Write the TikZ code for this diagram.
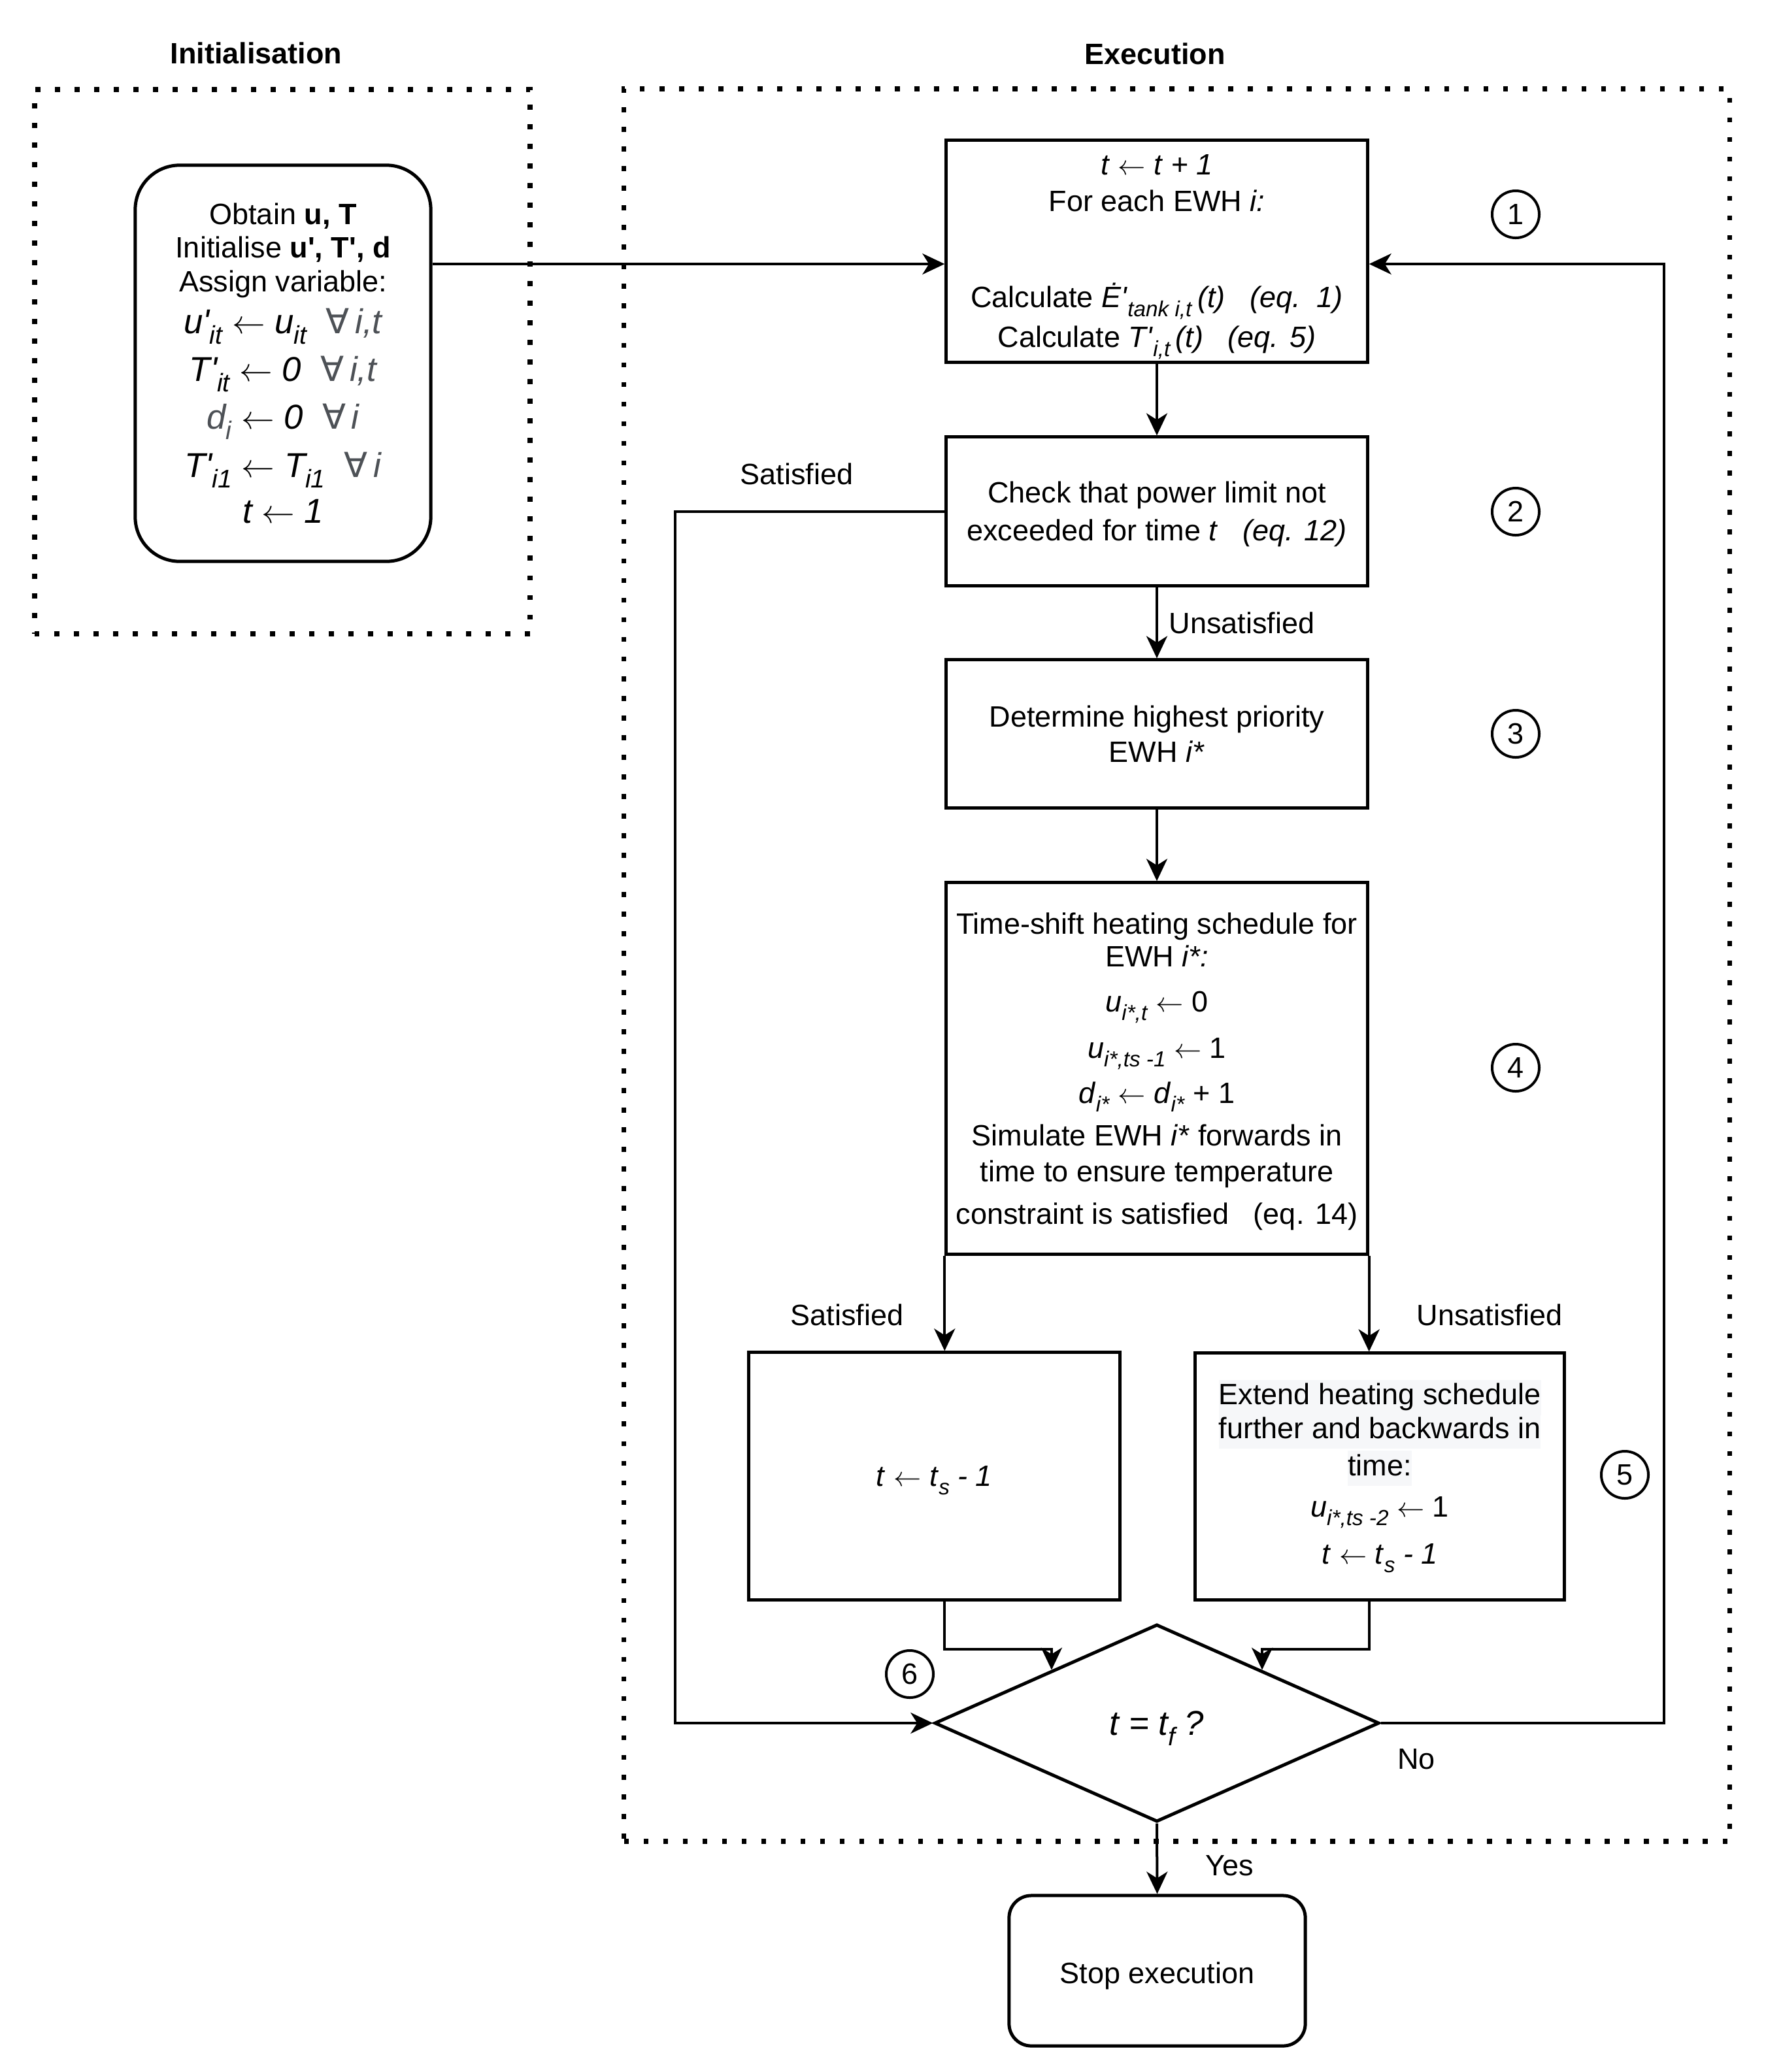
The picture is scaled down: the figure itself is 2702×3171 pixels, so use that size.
\documentclass[tikz,border=0pt]{standalone}
\usepackage{fontspec}
\usepackage{graphicx}
\setmainfont{Liberation Sans}
\newfontfamily\symf{DejaVu Sans}
\usetikzlibrary{arrows.meta,shapes.geometric,calc}
\definecolor{gtxt}{RGB}{77,81,86}
\definecolor{hlbg}{RGB}{246,247,249}
\newcommand\fs{\fontsize{12.8pt}{15.36pt}\selectfont}
\newcommand\fm{\fontsize{15pt}{18pt}\selectfont}
\newcommand\larr{\ensuremath{\leftarrow}}
\newcommand\fall{{\symf ∀}}
\newcommand\pq{\textquotesingle}
\newcommand\sbx[1]{\raisebox{-0.3em}{\scalebox{0.74}{#1}}}
\newcommand\sbz[1]{\smash{\sbx{#1}}}
\newcommand\hlx[1]{{\setlength\fboxsep{0pt}\colorbox{hlbg}{\strut #1}}}
\begin{document}
\begin{tikzpicture}[x=0.01cm,y=-0.01cm,
  every node/.style={font=\fs},
  box/.style={draw, line width=0.05cm, rectangle, align=center, inner sep=2pt},
  rbox/.style={box, rounded corners=#1},
  frame/.style={draw, line width=0.077cm, dash pattern=on 0.077cm off 0.223cm, rectangle, inner sep=0pt},
  conn/.style={line width=0.04cm, -{Stealth[length=0.34cm,width=0.32cm,inset=0.1cm]}},
  num/.style={draw, circle, line width=0.04cm, minimum size=0.72cm, inner sep=0pt},
  lbl/.style={inner sep=0pt},
  ttl/.style={font=\fs\bfseries, inner sep=0pt},
  dec/.style={draw, diamond, line width=0.05cm, minimum width=6.8cm, minimum height=3.02cm, inner sep=0pt, font=\fm\itshape}
]
\fill[white] (0,0) rectangle (2702,3171);
\useasboundingbox (0,0) rectangle (2702,3171);

% frames
\node[frame, minimum width=7.58cm, minimum height=8.33cm] (initframe) at (432,553.5) {};
\node[frame, minimum width=16.91cm, minimum height=26.80cm] (execframe) at (1800.5,1477) {};

% titles
\node[ttl] (t1) at (392,81) {Initialisation};
\node[ttl] (t2) at (1767,82) {Execution};

% initialisation box
\node[rbox=0.68cm, minimum width=4.52cm, minimum height=6.06cm] (init) at (433,556) {%
Obtain \textbf{u, T}\\[-0.03cm]
Initialise \textbf{u\pq, T\pq, d}\\[-0.02cm]
Assign variable:\\[0.10cm]
{\fm\itshape u\pq\sbx{it} \larr{} u\sbx{it}\ \ {\color{gtxt}\fall\,i,t}}\\[0.15cm]
{\fm\itshape T\pq\sbx{it} \larr{} 0\ \ {\color{gtxt}\fall\,i,t}}\\[0.15cm]
{\fm\itshape {\color{gtxt}d\sbx{i}} \larr{} 0\ \ {\color{gtxt}\fall\,i}}\\[0.16cm]
{\fm\itshape T\pq\sbx{i1} \larr{} T\sbx{i1}\ \ {\color{gtxt}\fall\,i}}\\[0.16cm]
{\fm\itshape t \larr{} 1}};

% execution boxes
\node[box, minimum width=6.44cm, minimum height=3.39cm] (b1) at (1770,384.5) {%
\textit{t} \larr{} \textit{t} + \textit{1}\\[0.02cm]
For each EWH \textit{i:}\\[0.93cm]
Calculate \textit{Ė\pq}\sbx{\textit{tank i,t}}\,\textit{(t)}~~~\textit{(eq.~~1)}\\[0.07cm]
Calculate \smash{\textit{T\pq}\sbx{\textit{i,t}}\,\textit{(t)}~~~\textit{(eq. 5)}}};

\node[box, minimum width=6.44cm, minimum height=2.27cm] (b2) at (1770,782.5) {%
\rule{0pt}{0.41cm}Check that power limit not\\[0.04cm]
exceeded for time \textit{t}~~~\textit{(eq. 12)}};

\node[box, minimum width=6.44cm, minimum height=2.26cm] (b3) at (1770,1123) {%
Determine highest priority\\
EWH \textit{i*}};

\node[box, minimum width=6.44cm, minimum height=5.68cm] (b4) at (1770,1635) {%
Time-shift heating schedule for\\[-0.04cm]
EWH \textit{i*:}\\[0.15cm]
\textit{u}\sbx{\textit{i*,t}} \larr{} 0\\[0.17cm]
\textit{u}\sbx{\textit{i*,ts -1}} \larr{} 1\\[0.15cm]
\textit{d}\sbx{\textit{i*}} \larr{} \textit{d}\sbx{\textit{i*}} + 1\\[0.11cm]
Simulate EWH \textit{i*} forwards in\\[0.01cm]
time to ensure temperature\\[0.11cm]
\smash{constraint is satisfied~~~(eq. 14)}};

\node[box, minimum width=5.68cm, minimum height=3.78cm] (b5a) at (1429.5,2259) {%
\textit{t} \larr{} \textit{t}\sbz{\textit{s}} \textit{- 1}};

\node[box, minimum width=5.64cm, minimum height=3.77cm] (b5b) at (2111,2259.5) {%
\hlx{Extend heating schedule}\\[-0.03cm]
\hlx{further and backwards in}\\[0.03cm]
\hlx{time:}\\[0.09cm]
\textit{u}\sbx{\textit{i*,ts -2}} \larr{} 1\\[0.18cm]
\textit{t} \larr{} \textit{t}\sbx{\textit{s}} \textit{- 1}};

\node[dec] (dia) at (1770,2637) {t = t\sbz{f} ?};

\node[rbox=0.34cm, minimum width=4.53cm, minimum height=2.30cm] (stop) at (1770.5,3016) {\rule{0pt}{0.48cm}Stop execution};

% step numbers
\node[num] (c1) at (2319,328) {1};
\node[num] (c2) at (2319,783) {2};
\node[num] (c3) at (2319,1123) {3};
\node[num] (c4) at (2319,1634) {4};
\node[num] (c5) at (2486,2257) {5};
\node[num] (c6) at (1392,2562) {6};

% helper coordinates
\coordinate (j1) at (1000,404);
\coordinate (rl) at (2546,404);
\coordinate (ll) at (1033,2637);
\coordinate (hy) at (0,2524);
\coordinate (dl) at ($(dia.north)!0.47!(dia.west)$);
\coordinate (dr) at ($(dia.north)!0.47!(dia.east)$);

% connectors
\draw[conn] (init.east |- j1) -- (b1.west |- j1);
\draw[conn] (b1.south) -- (b2.north);
\draw[conn] (b2.south) -- (b3.north);
\draw[conn] (b3.south) -- (b4.north);
\draw[conn] (b2.west) -| (ll) -- (dia.west);
\draw[conn] (dia.east) -| (rl) -- (b1.east |- rl);
\draw[conn] (b4.south west) -- (b4.south west |- b5a.north);
\draw[conn] (b4.south east) -- (b4.south east |- b5b.north);
\draw[conn] (b4.south west |- b5a.south) -- (b4.south west |- hy) -| (dl);
\draw[conn] (b4.south east |- b5b.south) -- (b4.south east |- hy) -| (dr);
\draw[conn] (dia.south) -- (stop.north);

% labels
\node[lbl] (lsat1) at (1219,725) {Satisfied};
\node[lbl] (lunsat1) at (1900,953) {Unsatisfied};
\node[lbl] (lsat2) at (1296,2012) {Satisfied};
\node[lbl] (lunsat2) at (2279,2012) {Unsatisfied};
\node[lbl] (lno) at (2167,2692) {No};
\node[lbl] (lyes) at (1881,2855) {Yes};
\end{tikzpicture}
\end{document}
